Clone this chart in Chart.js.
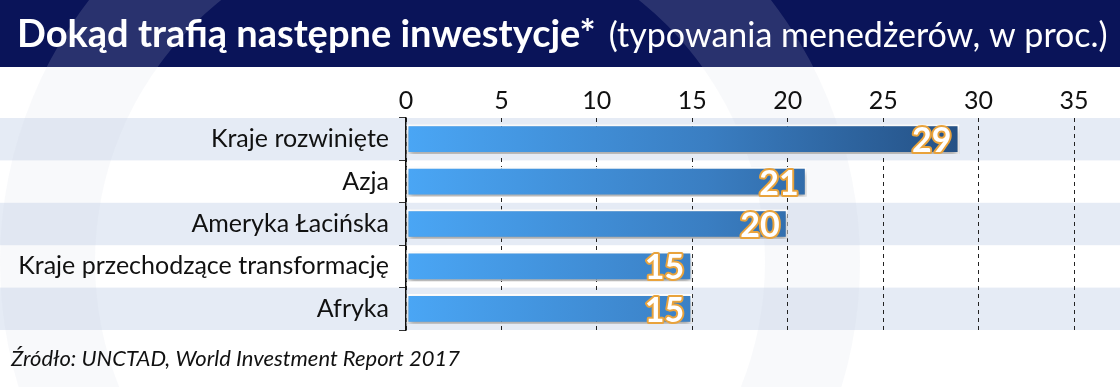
<!DOCTYPE html>
<html>
<head>
<meta charset="utf-8">
<script src="https://cdn.jsdelivr.net/npm/chart.js@4.4.1/dist/chart.umd.min.js"></script>
<style>
  html, body { margin: 0; padding: 0; background: #fff; }
  #wrap { width: 1120px; height: 387px; position: relative; }
</style>
</head>
<body>
<div id="wrap"><canvas id="barChart" width="1120" height="387"></canvas></div>
<script>
// dane z wykresu
var regions = ['Kraje rozwinięte', 'Azja', 'Ameryka Łacińska', 'Kraje przechodzące transformację', 'Afryka'];
var shares = [29, 21, 20, 15, 15];
var tickMax = 35;
var tickStep = 5;

var titleMain = 'Dokąd trafią następne inwestycje*';
var titleSub = '(typowania menedżerów, w proc.)';
var sourceText = 'Źródło: UNCTAD, World Investment Report 2017';

var FONT = 'Lato, "Open Sans", sans-serif';

// tlo: pasek tytulu, pasy wierszy, znak wodny
var backgroundPlugin = {
    id: 'bg',
    beforeDraw: function (chart) {
        var ctx = chart.ctx;
        var y = chart.scales.y;
        ctx.save();
        ctx.fillStyle = '#ffffff';
        ctx.fillRect(0, 0, chart.width, chart.height);
        // pasy co drugi wiersz
        var half = (y.getPixelForValue(1) - y.getPixelForValue(0)) / 2;
        for (var i = 0; i < regions.length; i += 2) {
            var c = y.getPixelForValue(i);
            ctx.fillStyle = '#e5ebf5';
            ctx.fillRect(0, c - half, chart.width, half * 2);
        }
        // znak wodny - duzy pierscien
        ctx.beginPath();
        ctx.arc(430, 262, 430, 0, Math.PI * 2);
        ctx.arc(430, 262, 335, 0, Math.PI * 2, true);
        ctx.fillStyle = 'rgba(200,208,222,0.13)';
        ctx.fill();
        // pasek tytulu
        ctx.fillStyle = '#0a1459';
        ctx.fillRect(0, 0, chart.width, 67);
        ctx.save();
        ctx.beginPath();
        ctx.rect(0, 0, chart.width, 67);
        ctx.clip();
        ctx.beginPath();
        ctx.arc(430, 262, 430, 0, Math.PI * 2);
        ctx.arc(430, 262, 335, 0, Math.PI * 2, true);
        ctx.fillStyle = 'rgba(255,255,255,0.13)';
        ctx.fill();
        ctx.restore();
        ctx.fillStyle = '#ffffff';
        ctx.textBaseline = 'alphabetic';
        ctx.textAlign = 'left';
        ctx.font = 'bold 38px ' + FONT;
        ctx.fillText(titleMain, 17, 47);
        var w = ctx.measureText(titleMain).width;
        ctx.font = '34px ' + FONT;
        ctx.fillText(titleSub, 17 + w + 13, 47);
        // zrodlo
        ctx.fillStyle = '#111';
        ctx.font = 'italic 22px ' + FONT;
        ctx.fillText(sourceText, 11, 366);
        ctx.restore();
    }
};

// cien pod slupkami i etykiety wartosci
var shadowPlugin = {
    id: 'barShadow',
    beforeDatasetsDraw: function (chart) {
        chart.ctx.save();
        chart.ctx.shadowColor = 'rgba(0,0,0,0.35)';
        chart.ctx.shadowBlur = 6;
        chart.ctx.shadowOffsetY = 4;
    },
    afterDatasetsDraw: function (chart) {
        chart.ctx.restore();
        var ctx = chart.ctx;
        var meta = chart.getDatasetMeta(0);
        ctx.save();
        ctx.font = 'bold 34px ' + FONT;
        ctx.textAlign = 'right';
        ctx.textBaseline = 'middle';
        ctx.lineJoin = 'round';
        meta.data.forEach(function (bar, i) {
            var txt = String(shares[i]);
            ctx.lineWidth = 4;
            ctx.strokeStyle = '#e9a33c';
            ctx.strokeText(txt, bar.x - 8, bar.y + 2);
            ctx.fillStyle = '#ffffff';
            ctx.fillText(txt, bar.x - 8, bar.y + 2);
        });
        ctx.restore();
    }
};

var ctxBar = document.getElementById('barChart');
var myBarChart = new Chart(ctxBar, {
    type: 'bar',
    data: {
        labels: regions,
        datasets: [{
            data: shares,
            backgroundColor: function (c) {
                var area = c.chart.chartArea;
                if (!area) return '#3a7cc0';
                var g = c.chart.ctx.createLinearGradient(area.left, 0, area.right, 0);
                g.addColorStop(0, '#4aa6f5');
                g.addColorStop(0.45, '#3a7ec2');
                g.addColorStop(1, '#1a3b68');
                return g;
            },
            borderColor: '#ffffff',
            borderWidth: 2,
            borderSkipped: false,
            barPercentage: 0.7,
            categoryPercentage: 1
        }]
    },
    options: {
        indexAxis: 'y',
        responsive: false,
        animation: false,
        layout: { padding: { top: 70, bottom: 57, left: 0, right: 46 } },
        plugins: {
            legend: { display: false },
            tooltip: { enabled: false },
            title: { display: false }
        },
        scales: {
            x: {
                position: 'top',
                min: 0,
                max: tickMax,
                ticks: {
                    stepSize: tickStep,
                    color: '#111',
                    font: { family: FONT, size: 25 },
                    padding: 2
                },
                grid: {
                    color: '#222',
                    lineWidth: 1,
                    drawTicks: false
                },
                border: { display: false, dash: [4, 4] },
                afterFit: function (s) { s.height = 48; }
            },
            y: {
                ticks: {
                    color: '#111',
                    font: { family: FONT, size: 25 },
                    padding: 10
                },
                grid: {
                    drawOnChartArea: false,
                    drawTicks: true,
                    tickLength: 7,
                    color: '#333',
                    offset: true
                },
                border: { display: true, color: '#111', width: 1.5 },
                afterFit: function (s) { s.width = 406; }
            }
        }
    },
    plugins: [backgroundPlugin, shadowPlugin]
});
</script>
</body>
</html>
